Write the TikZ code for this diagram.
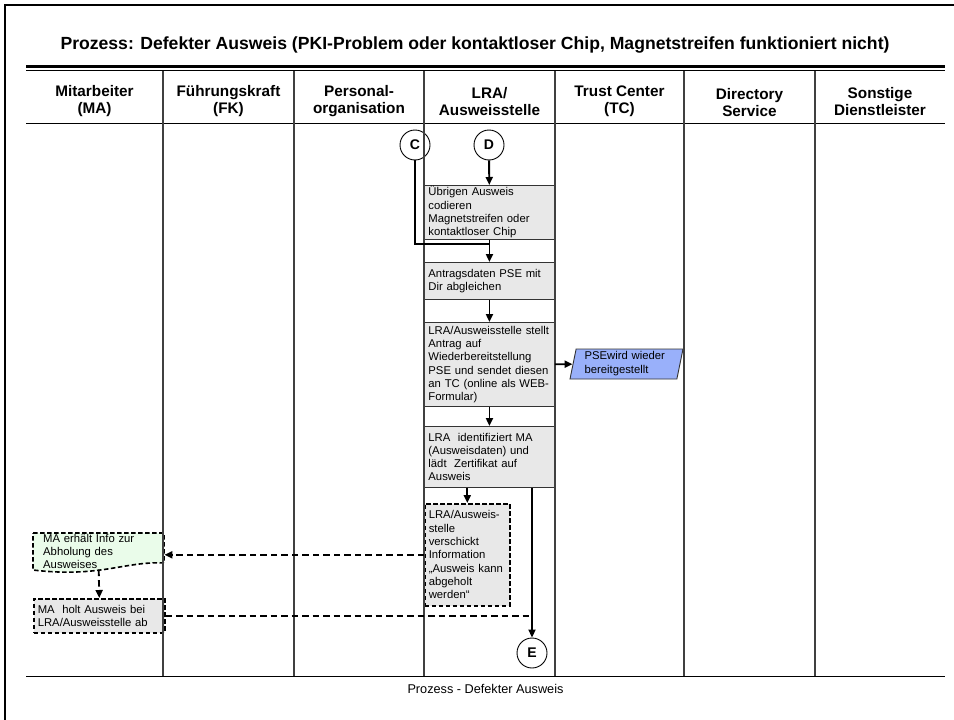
\documentclass[tikz,border=0pt]{standalone}
\usepackage{fontspec}
\setmainfont{Liberation Sans}
\usetikzlibrary{arrows.meta,shapes.geometric}

\definecolor{boxgray}{RGB}{232,232,232}
\definecolor{infogreen}{RGB}{234,252,234}
\definecolor{pseblue}{RGB}{153,176,250}

\tikzset{
  lanehead/.style={font=\fontsize{15.3}{17}\selectfont\bfseries, align=center},
  lanesep/.style={line width=1.8pt, black!75},
  procbox/.style={draw=black!80, line width=0.9pt, fill=boxgray, anchor=north west,
    align=left, inner xsep=4pt, inner ysep=1pt, text width=122pt,
    font=\fontsize{11.3}{13.3}\selectfont},
  dashbox/.style={procbox, draw=black, line width=1.6pt, dash pattern=on 4.5pt off 2.5pt},
  connector/.style={circle, draw, line width=0.9pt, minimum size=30pt, inner sep=0pt,
    font=\fontsize{14}{14}\selectfont\bfseries},
  flow/.style={line width=1.9pt, -{Triangle[length=8pt,width=7pt]}},
  msgline/.style={line width=1.9pt, dash pattern=on 6.5pt off 4pt},
  msgflow/.style={msgline, -{Triangle[length=8pt,width=7pt]}},
}

\begin{document}
\begin{tikzpicture}[x=1pt,y=-1pt]
  \useasboundingbox (0,0) rectangle (954,720);

  % Frame and title
  \draw[line width=2pt] (5,720) -- (5,5) -- (954,5);
  \node[font=\fontsize{17.6}{20}\selectfont\bfseries] (title) at (475,45)
    {Prozess: Defekter Ausweis (PKI-Problem oder kontaktloser Chip, Magnetstreifen funktioniert nicht)};
  \draw[line width=3.5pt] (26,66.5) -- (945,66.5);
  \draw[line width=1.2pt] (26,70.2) -- (945,70.2);

  % Lane headers
  \node[lanehead] (hMA)  at (94.5,101.5) {Mitarbeiter\\(MA)};
  \node[lanehead] (hFK)  at (228.5,101.5) {Führungskraft\\(FK)};
  \node[lanehead] (hPO)  at (359,101.5) {Personal-\\organisation};
  \node[lanehead] (hLRA) at (489.5,101.5) {LRA/\\Ausweisstelle};
  \node[lanehead] (hTC)  at (619.5,101.5) {Trust Center\\(TC)};
  \node[lanehead] (hDS)  at (749.5,103) {Directory\\Service};
  \node[lanehead] (hSD)  at (880,101.5) {Sonstige\\Dienstleister};
  \draw[line width=1pt] (26,123) -- (945,123);
  \draw[line width=1pt] (26,676) -- (945,676);

  % LRA / Ausweisstelle
  \node[procbox, minimum height=53pt] (box1) at (424,185)
    {Übrigen Ausweis\\codieren\\Magnetstreifen oder\\kontaktloser Chip};
  \node[procbox, minimum height=37pt] (box2) at (424,262)
    {Antragsdaten PSE mit\\Dir abgleichen};
  \node[procbox, minimum height=84pt] (box3) at (424,322)
    {LRA/Ausweisstelle stellt\\Antrag auf\\Wiederbereitstellung\\PSE und sendet diesen\\an TC (online als WEB-\\Formular)};
  \node[procbox, minimum height=61pt] (box4) at (424,426)
    {LRA\ \ identifiziert MA\\(Ausweisdaten) und\\lädt\ \ Zertifikat auf\\Ausweis};
  \node[dashbox, text width=77pt, minimum height=102pt] (box5) at (424,503)
    {LRA/Ausweis-\\stelle\\verschickt\\Information\\„Ausweis kann\\abgeholt\\werden“};

  % Trust Center
  \node[trapezium, trapezium left angle=77, trapezium right angle=103, trapezium stretches body,
    draw=black!80, line width=0.9pt, fill=pseblue, minimum width=113pt, minimum height=30pt,
    text width=84pt, align=left, inner xsep=2pt, inner ysep=1pt,
    font=\fontsize{11.3}{14}\selectfont] (pse) at (626.5,364) {PSEwird wieder\\bereitgestellt};

  % Mitarbeiter
  \draw[line width=1.6pt, dash pattern=on 4.5pt off 2.5pt, fill=infogreen]
    (33,533) -- (164,533) -- (164,563) .. controls (125,561) and (100,578) .. (33,570) -- cycle;
  \node[anchor=north west, align=left, text width=111pt, inner xsep=10pt, inner ysep=1pt,
    minimum height=34pt, font=\fontsize{11.3}{13}\selectfont] (ma1) at (33,533)
    {MA erhält Info zur\\Abholung des\\Ausweises};
  \node[dashbox, text width=123pt, minimum height=34pt] (ma2) at (33,598)
    {MA\ \ holt Ausweis bei\\LRA/Ausweisstelle ab};

  % Connectors
  \node[connector] (cC) at (415,145) {C};
  \node[connector] (cD) at (489,145) {D};
  \node[connector] (cE) at (532,653) {E};
  \coordinate (cjoin) at (489,244);

  % Lane separators
  \foreach \x in {163,294,424,555,684,815}
    \draw[lanesep] (\x,71) -- (\x,676);

  % Flow
  \draw[flow] (cD) -- (box1);
  \draw[flow] (box1) -- (box2);
  \draw[line width=1.9pt] (cC) |- (cjoin);
  \draw[flow] (box2) -- (box3);
  \draw[flow] (box3) -- (box4);
  \draw[flow] (box3) -- (pse);
  \draw[flow] (box4.south -| box5.north) -- (box5.north);
  \draw[flow] (box4.south -| cE) -- (cE);
  \draw[msgflow] (box5.west) -- (box5.west -| ma1.east);
  \draw[msgflow] (ma1.south) -- (ma2.north);
  \draw[msgline] (ma2.east) -- (ma2.east -| cE);

  % Footer
  \node[font=\fontsize{12.7}{14}\selectfont] (footer) at (485.5,689) {Prozess - Defekter Ausweis};
\end{tikzpicture}
\end{document}
